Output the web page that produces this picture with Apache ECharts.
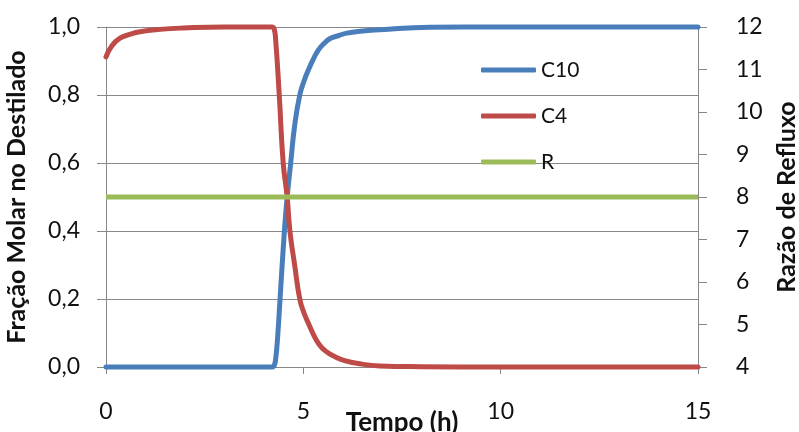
<!DOCTYPE html>
<html>
<head>
<meta charset="utf-8">
<script src="https://cdn.jsdelivr.net/npm/echarts@6/dist/echarts.min.js"></script>
<style>
  html, body { margin: 0; padding: 0; background: #ffffff; }
  #chart { width: 799px; height: 432px; }
</style>
</head>
<body>
<div id="chart"></div>
<script>
// Tempo (h) e fração molar de C4 no destilado
const tempoC4 = [0, 0.15, 0.355, 0.6, 0.86, 1.37, 1.95, 3, 4.2, 4.26, 4.3, 4.39, 4.49, 4.59, 4.66, 4.78, 4.91, 5.02, 5.13, 5.25, 5.38, 5.55, 5.8, 6.05, 6.35, 6.94, 8, 10, 15];
const fracaoC4 = [0.912, 0.945, 0.967, 0.978, 0.986, 0.993, 0.997, 1, 1, 0.995, 0.96, 0.8, 0.6, 0.5, 0.4, 0.3, 0.2, 0.158, 0.128, 0.097, 0.07, 0.048, 0.03, 0.019, 0.011, 0.003, 0.001, 0, 0];

// Tempo (h) e fração molar de C10 no destilado
const tempoC10 = [0, 2, 4.2, 4.26, 4.3, 4.35, 4.41, 4.52, 4.59, 4.68, 4.78, 4.91, 5.02, 5.13, 5.25, 5.38, 5.52, 5.68, 5.9, 6.1, 6.5, 6.94, 8.2, 10, 15];
const fracaoC10 = [0, 0, 0, 0.004, 0.025, 0.09, 0.2, 0.4, 0.5, 0.6, 0.71, 0.8, 0.842, 0.874, 0.905, 0.932, 0.951, 0.966, 0.975, 0.982, 0.988, 0.992, 0.999, 1, 1];

// Razão de refluxo (eixo direito)
const tempoR = [0, 15];
const razaoR = [8, 8];

// Marcas dos eixos
const ticksTempo = [0, 5, 10, 15];
const ticksFracao = [0, 0.2, 0.4, 0.6, 0.8, 1.0];
const ticksRazao = [4, 5, 6, 7, 8, 9, 10, 11, 12];

const pares = (xs, ys) => xs.map((x, i) => [x, ys[i]]);

const FONT = 'Lato, "Open Sans", sans-serif';
const GRAY = '#888888';
const TEXT = '#111111';

const chart = echarts.init(document.getElementById('chart'), null, { renderer: 'canvas' });

chart.setOption({
  animation: false,
  backgroundColor: '#ffffff',
  textStyle: { fontFamily: FONT },
  grid: { left: 106, right: 101, top: 27, bottom: 65, containLabel: false, outerBoundsMode: 'none' },
  legend: {
    orient: 'vertical',
    left: 476,
    top: 53,
    icon: 'roundRect',
    itemWidth: 55,
    itemHeight: 5,
    itemGap: 22,
    textStyle: { fontFamily: FONT, fontSize: 21, color: TEXT, lineHeight: 24 },
    data: ['C10', 'C4', 'R']
  },
  xAxis: {
    type: 'value',
    min: ticksTempo[0],
    max: ticksTempo[ticksTempo.length - 1],
    interval: ticksTempo[1] - ticksTempo[0],
    name: 'Tempo (h)',
    nameLocation: 'middle',
    nameGap: 43,
    nameMoveOverlap: false,
    nameTextStyle: { fontSize: 26, fontWeight: 'bold', color: TEXT, fontFamily: FONT },
    axisLine: { show: true, lineStyle: { color: GRAY, width: 1 } },
    axisTick: { show: true, length: 7, lineStyle: { color: GRAY } },
    axisLabel: { fontSize: 23, color: TEXT, margin: 33, fontFamily: FONT },
    splitLine: { show: false }
  },
  yAxis: [
    {
      type: 'value',
      position: 'left',
      min: ticksFracao[0],
      max: ticksFracao[ticksFracao.length - 1],
      interval: 0.2,
      name: 'Fração Molar no Destilado',
      nameLocation: 'middle',
      nameGap: 77,
      nameRotate: 90,
      nameMoveOverlap: false,
      nameTextStyle: { fontSize: 25, fontWeight: 'bold', color: TEXT, fontFamily: FONT },
      axisLine: { show: true, lineStyle: { color: GRAY, width: 1 } },
      axisTick: { show: true, length: 9, lineStyle: { color: GRAY } },
      axisLabel: {
        fontSize: 23, color: TEXT, margin: 26, fontFamily: FONT,
        formatter: v => v.toFixed(1).replace('.', ',')
      },
      splitLine: { show: true, lineStyle: { color: GRAY, width: 1 } }
    },
    {
      type: 'value',
      position: 'right',
      min: ticksRazao[0],
      max: ticksRazao[ticksRazao.length - 1],
      interval: 1,
      name: 'Razão de Refluxo',
      nameLocation: 'middle',
      nameGap: 76,
      nameRotate: 90,
      nameMoveOverlap: false,
      nameTextStyle: { fontSize: 25, fontWeight: 'bold', color: TEXT, fontFamily: FONT },
      axisLine: { show: true, lineStyle: { color: GRAY, width: 1 } },
      axisTick: { show: true, length: 9, lineStyle: { color: GRAY } },
      axisLabel: { fontSize: 23, color: TEXT, margin: 38, fontFamily: FONT },
      splitLine: { show: false }
    }
  ],
  series: [
    {
      name: 'C10',
      type: 'line',
      yAxisIndex: 0,
      data: pares(tempoC10, fracaoC10),
      showSymbol: false,
      smooth: 0.5,
      clip: false,
      color: '#4A7EBB',
      lineStyle: { width: 5, color: '#4A7EBB', cap: 'round', join: 'round' }
    },
    {
      name: 'C4',
      type: 'line',
      yAxisIndex: 0,
      data: pares(tempoC4, fracaoC4),
      showSymbol: false,
      smooth: 0.5,
      clip: false,
      color: '#BE4B48',
      lineStyle: { width: 5, color: '#BE4B48', cap: 'round', join: 'round' }
    },
    {
      name: 'R',
      type: 'line',
      yAxisIndex: 1,
      data: pares(tempoR, razaoR),
      showSymbol: false,
      clip: false,
      color: '#9BBB59',
      lineStyle: { width: 5, color: '#9BBB59' }
    }
  ]
});
</script>
</body>
</html>
